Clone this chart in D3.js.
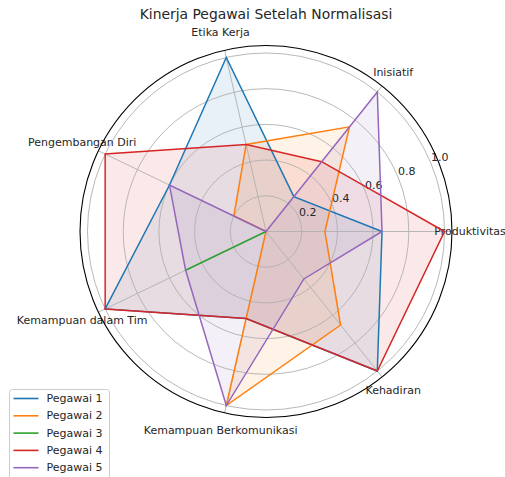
<!DOCTYPE html>
<html>
<head>
<meta charset="utf-8">
<script src="https://cdn.jsdelivr.net/npm/d3@7"></script>
<style>
  body { margin: 0; background: #fff; }
  text { font-family: "DejaVu Sans", sans-serif; fill: #262626; }
</style>
</head>
<body>
<div class="center"></div>
<script>
// categories (counter-clockwise from the right)
const categories = ["Produktivitas", "Inisiatif", "Etika Kerja", "Pengembangan Diri",
                    "Kemampuan dalam Tim", "Kemampuan Berkomunikasi", "Kehadiran"];

// normalised scores per employee
const pegawai1 = [0.65, 0.25, 1.0, 0.6, 1.0, 0.5, 1.0];
const pegawai2 = [0.33, 0.75, 0.5, 0.2, 0.0, 1.0, 0.67];
const pegawai3 = [0.0, 0.0, 0.0, 0.0, 0.5, 0.0, 0.0];
const pegawai4 = [1.0, 0.5, 0.5, 1.0, 1.0, 0.5, 1.0];
const pegawai5 = [0.65, 1.0, 0.0, 0.6, 0.5, 1.0, 0.34];

const seriesNames = ["Pegawai 1", "Pegawai 2", "Pegawai 3", "Pegawai 4", "Pegawai 5"];
const seriesValues = [pegawai1, pegawai2, pegawai3, pegawai4, pegawai5];
const rTicks = [0.2, 0.4, 0.6, 0.8, 1.0];

const width = 505, height = 477;
const cx = 266, cy = 231.5;
const rMax = 1.042;

const rScale = d3.scaleLinear().domain([0, rMax]).range([0, 186]);
const angleScale = d3.scaleLinear().domain([0, categories.length]).range([0, 2 * Math.PI]);
const color = d3.scaleOrdinal()
  .domain(seriesNames)
  .range(["#1f77b4", "#ff7f0e", "#2ca02c", "#d62728", "#9467bd"]);

function px(i, v) { return cx + rScale(v) * Math.cos(angleScale(i)); }
function py(i, v) { return cy - rScale(v) * Math.sin(angleScale(i)); }

const svg = d3.select(".center").append("svg")
  .attr("width", width)
  .attr("height", height);

const radarLine = d3.line()
  .x(function(d, i) { return px(i, d); })
  .y(function(d, i) { return py(i, d); })
  .curve(d3.curveLinearClosed);

// fills first (patches sit below the grid in matplotlib)
svg.append("g").selectAll("path")
  .data(seriesValues)
  .enter().append("path")
  .attr("d", d => radarLine(d))
  .style("fill", (d, i) => color(seriesNames[i]))
  .style("fill-opacity", 0.1)
  .style("stroke", "none");

// grid circles
const grid = svg.append("g");
grid.selectAll("circle")
  .data(rTicks)
  .enter().append("circle")
  .attr("cx", cx)
  .attr("cy", cy)
  .attr("r", d => rScale(d))
  .style("fill", "none")
  .style("stroke", "#b0b0b0")
  .style("stroke-width", 0.9);

// radial grid lines
grid.selectAll("line")
  .data(categories)
  .enter().append("line")
  .attr("x1", cx)
  .attr("y1", cy)
  .attr("x2", (d, i) => px(i, rMax))
  .attr("y2", (d, i) => py(i, rMax))
  .style("stroke", "#b0b0b0")
  .style("stroke-width", 0.9);

// r tick labels at 22.5 deg
const labAngle = 22.5 * Math.PI / 180;
svg.append("g").selectAll("text")
  .data(rTicks)
  .enter().append("text")
  .attr("x", d => cx + rScale(d) * Math.cos(labAngle))
  .attr("y", d => cy - rScale(d) * Math.sin(labAngle) - 2)
  .style("font-size", "11px")
  .attr("text-anchor", "start")
  .text(d => d3.format(".1f")(d));

// category labels
svg.append("g").selectAll("text")
  .data(categories)
  .enter().append("text")
  .attr("x", (d, i) => cx + 204 * Math.cos(angleScale(i)))
  .attr("y", (d, i) => cy - 204 * Math.sin(angleScale(i)))
  .attr("text-anchor", "middle")
  .attr("dominant-baseline", "central")
  .style("font-size", "11px")
  .text(d => d);

// series lines
svg.append("g").selectAll("path")
  .data(seriesValues)
  .enter().append("path")
  .attr("d", d => radarLine(d))
  .style("fill", "none")
  .style("stroke", (d, i) => color(seriesNames[i]))
  .style("stroke-width", 1.5)
  .style("stroke-linejoin", "miter");

// outer spine
svg.append("circle")
  .attr("cx", cx)
  .attr("cy", cy)
  .attr("r", rScale(rMax))
  .style("fill", "none")
  .style("stroke", "#000")
  .style("stroke-width", 1.1);

// title
svg.append("text")
  .attr("x", cx)
  .attr("y", 19)
  .attr("text-anchor", "middle")
  .style("font-size", "13.9px")
  .text("Kinerja Pegawai Setelah Normalisasi");

// handmade legend
const legend = svg.append("g");
legend.append("rect")
  .attr("x", 9.5)
  .attr("y", 389.5)
  .attr("width", 100)
  .attr("height", 95)
  .attr("rx", 3)
  .style("fill", "#fff")
  .style("fill-opacity", 0.8)
  .style("stroke", "#cccccc")
  .style("stroke-width", 1);

const items = legend.selectAll("g.item")
  .data(seriesNames)
  .enter().append("g")
  .attr("class", "item")
  .attr("transform", (d, i) => `translate(0,${398.5 + i * 17.3})`);
items.append("line")
  .attr("x1", 13.5)
  .attr("x2", 38.5)
  .attr("y1", 0)
  .attr("y2", 0)
  .style("stroke", d => color(d))
  .style("stroke-width", 1.6);
items.append("text")
  .attr("x", 46.5)
  .attr("y", 0)
  .attr("dominant-baseline", "central")
  .style("font-size", "11px")
  .text(d => d);
</script>
</body>
</html>
